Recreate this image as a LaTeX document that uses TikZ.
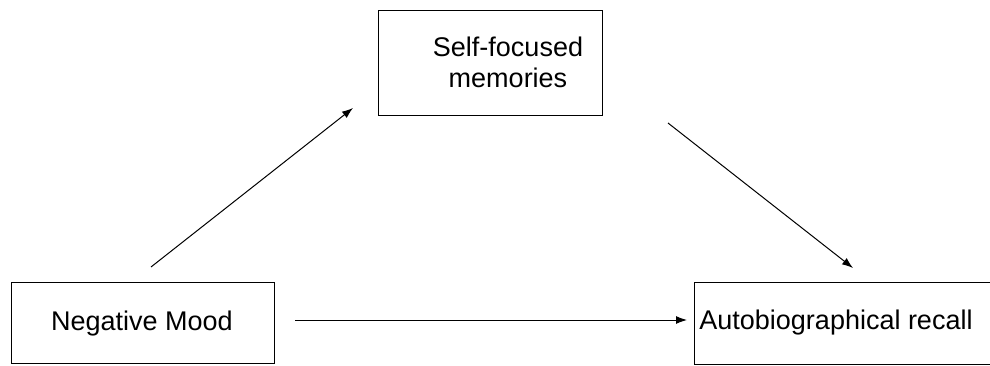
\documentclass[tikz,border=0pt]{standalone}
\usepackage{fontspec}
\setmainfont{Liberation Sans}
\usetikzlibrary{arrows.meta}
\begin{document}
\begin{tikzpicture}[x=1pt,y=-1pt,
  boxstyle/.style={draw=black, line width=1pt, inner sep=0pt, anchor=north west},
  labelstyle/.style={font=\fontsize{27}{31}\selectfont, align=center, inner sep=0pt},
  arrowstyle/.style={line width=1pt, -{Latex[length=11pt,width=8pt]}}]
\useasboundingbox (0,0) rectangle (990,366);
\node[boxstyle, minimum width=224pt, minimum height=105pt] (top) at (378,10) {};
\node[boxstyle, minimum width=263pt, minimum height=81pt] (left) at (11,282) {};
\node[boxstyle, minimum width=310pt, minimum height=82pt] (right) at (694,282) {};
\node[labelstyle] (toptext) at (508,62) {Self-focused\\ memories};
\node[labelstyle] (lefttext) at (142,324) {Negative Mood};
\node[labelstyle] (righttext) at (836,323) {Autobiographical recall};
\coordinate (a1s) at (151,267);
\coordinate (a1e) at (353,108);
\coordinate (a2s) at (668,123);
\coordinate (a2e) at (853,268);
\coordinate (a3s) at (295,320);
\coordinate (a3e) at (687,320);
\draw[arrowstyle] (a1s) -- (a1e);
\draw[arrowstyle] (a2s) -- (a2e);
\draw[arrowstyle] (a3s) -- (a3e);
\end{tikzpicture}
\end{document}
